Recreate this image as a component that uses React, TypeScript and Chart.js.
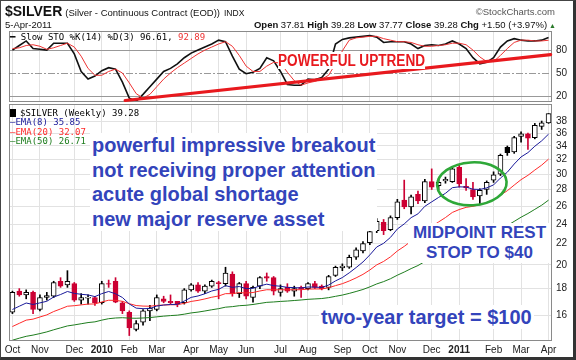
import React, { useEffect, useRef } from "react";
import { Chart, registerables } from "chart.js";

Chart.register(...registerables);

// ---------- data (weekly, Oct 2009 .. Apr 2011) ----------
const MONTH_TICK_WEEKS = [0, 4, 9, 13, 17, 21, 26, 30, 34, 39, 43, 48, 52, 56, 61, 65, 70, 74, 78];
const MONTH_TICK_LABELS = ["Oct", "Nov", "Dec", "2010", "Feb", "Mar", "Apr", "May", "Jun", "Jul", "Aug", "Sep", "Oct", "Nov", "Dec", "2011", "Feb", "Mar", "Apr"];

const OPEN = [16.2, 17.8, 17.5, 17.7, 16.4, 17.3, 17.4, 18.6, 18.3, 18.4,
  17.1, 17.25, 17.3, 16.9, 18.4, 18.6, 16.9, 16.2, 15.0, 15.5,
  16.3, 16.4, 17.2, 17.0, 17.0, 16.9, 17.9, 18.3, 17.8, 18.2,
  18.5, 18.4, 19.2, 17.6, 18.4, 17.3, 18.2, 19.0, 18.9, 17.7,
  18.1, 17.8, 18.1, 18.0, 18.4, 18.2, 18.1, 19.1, 19.75, 19.8,
  20.7, 21.3, 22.1, 23.3, 24.2, 23.4, 24.7, 26.7, 25.9, 27.4,
  26.6, 29.0, 28.5, 29.1, 29.0, 30.9, 28.4, 28.0, 27.2, 28.0,
  29.2, 30.0, 33.8, 33.1, 35.5, 35.9, 35.3, 37.1, 37.7];
const HIGH = [17.8, 18.0, 17.9, 17.8, 17.5, 17.7, 18.6, 18.9, 19.5, 18.5,
  17.6, 17.5, 17.4, 18.6, 18.7, 18.9, 17.0, 16.3, 15.6, 16.4,
  16.7, 17.5, 17.4, 17.5, 17.0, 18.0, 18.4, 18.5, 18.3, 18.7,
  18.6, 19.8, 19.4, 18.5, 18.6, 18.2, 19.0, 19.3, 19.0, 18.3,
  18.4, 18.2, 18.2, 18.5, 18.6, 18.3, 19.1, 19.9, 20.1, 20.9,
  21.6, 22.2, 23.4, 24.6, 24.5, 24.9, 26.8, 29.2, 27.3, 27.8,
  29.3, 30.7, 29.4, 29.6, 31.0, 31.2, 29.4, 28.9, 28.1, 29.1,
  30.3, 32.8, 34.0, 35.5, 36.2, 36.0, 37.6, 38.0, 39.28];
const LOW = [16.1, 17.4, 17.2, 16.1, 16.3, 17.1, 17.3, 18.1, 18.1, 17.0,
  16.8, 16.8, 16.7, 16.8, 18.1, 16.9, 16.1, 14.6, 14.9, 15.3,
  15.6, 16.3, 16.9, 16.8, 16.6, 16.8, 17.8, 17.7, 17.6, 18.1,
  17.2, 18.2, 17.4, 17.3, 17.2, 16.95, 18.0, 18.6, 17.5, 17.4,
  17.7, 17.4, 17.3, 17.9, 18.0, 17.9, 17.9, 19.0, 19.5, 19.7,
  20.5, 21.1, 21.9, 23.1, 22.9, 23.3, 24.5, 25.7, 25.1, 26.3,
  26.4, 28.0, 28.0, 28.8, 28.9, 28.3, 27.9, 26.8, 26.3, 27.4,
  28.9, 29.8, 32.6, 32.9, 34.6, 33.5, 35.1, 36.6, 37.6];
const CLOSE = [17.7, 17.5, 17.7, 16.4, 17.3, 17.45, 18.5, 18.2, 18.6, 17.1,
  17.3, 17.32, 16.9, 18.4, 18.35, 16.95, 16.3, 15.1, 15.4, 16.3,
  16.5, 17.3, 17.0, 16.9, 16.8, 17.9, 18.3, 17.8, 18.2, 18.6,
  18.4, 19.3, 17.6, 18.4, 17.4, 18.1, 18.9, 18.85, 17.8, 18.0,
  17.8, 18.0, 17.95, 18.4, 18.1, 18.0, 19.0, 19.8, 19.9, 20.7,
  21.4, 22.0, 23.2, 24.3, 23.3, 24.7, 26.5, 25.9, 27.1, 26.6,
  29.0, 28.3, 28.9, 29.3, 30.7, 28.7, 28.2, 27.1, 27.9, 28.9,
  29.9, 32.6, 33.0, 35.3, 35.9, 35.2, 37.3, 37.7, 39.28];

const EMA8 = [16.4, 16.64, 16.88, 16.77, 16.89, 17.01, 17.34, 17.53, 17.77, 17.62,
  17.55, 17.5, 17.37, 17.6, 17.77, 17.59, 17.3, 16.81, 16.5, 16.46,
  16.47, 16.65, 16.73, 16.77, 16.78, 17.03, 17.31, 17.42, 17.59, 17.81,
  17.94, 18.24, 18.1, 18.17, 18.0, 18.02, 18.22, 18.36, 18.24, 18.19,
  18.1, 18.08, 18.05, 18.13, 18.12, 18.09, 18.29, 18.63, 18.91, 19.31,
  19.77, 20.27, 20.92, 21.67, 22.03, 22.62, 23.48, 24.02, 24.7, 25.12,
  25.98, 26.5, 27.03, 27.53, 28.23, 28.34, 28.31, 28.04, 28.01, 28.21,
  28.58, 29.47, 30.25, 31.37, 32.38, 33.01, 33.96, 34.79, 35.85];
const EMA20 = [15.2, 15.42, 15.64, 15.71, 15.86, 16.01, 16.25, 16.44, 16.64, 16.68,
  16.74, 16.8, 16.81, 16.96, 17.09, 17.08, 17.01, 16.83, 16.69, 16.65,
  16.64, 16.7, 16.73, 16.75, 16.75, 16.86, 17.0, 17.08, 17.19, 17.32,
  17.42, 17.6, 17.6, 17.68, 17.65, 17.69, 17.81, 17.91, 17.9, 17.91,
  17.9, 17.91, 17.91, 17.96, 17.97, 17.97, 18.07, 18.24, 18.4, 18.62,
  18.88, 19.18, 19.56, 20.01, 20.32, 20.74, 21.29, 21.73, 22.24, 22.66,
  23.26, 23.74, 24.23, 24.71, 25.28, 25.61, 25.86, 25.98, 26.16, 26.42,
  26.75, 27.31, 27.85, 28.56, 29.26, 29.83, 30.54, 31.22, 32.07];
const EMA50 = [14.3, 14.43, 14.55, 14.63, 14.73, 14.84, 14.98, 15.11, 15.24, 15.31,
  15.39, 15.47, 15.52, 15.64, 15.74, 15.79, 15.81, 15.78, 15.77, 15.79,
  15.82, 15.87, 15.92, 15.96, 15.99, 16.06, 16.15, 16.21, 16.29, 16.38,
  16.46, 16.57, 16.61, 16.68, 16.71, 16.77, 16.85, 16.93, 16.96, 17.0,
  17.03, 17.07, 17.11, 17.16, 17.19, 17.22, 17.29, 17.39, 17.49, 17.62,
  17.77, 17.93, 18.14, 18.38, 18.57, 18.81, 19.11, 19.38, 19.68, 19.95,
  20.31, 20.62, 20.94, 21.27, 21.64, 21.92, 22.16, 22.36, 22.57, 22.82,
  23.1, 23.47, 23.85, 24.29, 24.75, 25.16, 25.63, 26.11, 26.71];

const STO_K = [80, 86, 92, 82, 81, 80, 89, 89, 89, 75,
  52, 42, 46, 53, 57, 55, 38, 17, 13, 22,
  32, 42, 52, 56, 62, 70, 76, 80, 84, 88,
  93, 91, 72, 55, 49, 51, 56, 70, 66, 52,
  35, 34, 34, 42, 41, 44, 55, 88, 94, 96,
  97, 98, 99, 97, 90, 91, 91, 91, 88, 82,
  86, 87, 86, 88, 92, 88, 82, 70, 62, 64,
  70, 84, 92, 95, 93, 92, 92, 93, 96.61];
const STO_D = [82, 83, 86, 87, 85, 81, 83, 86, 89, 84,
  72, 56, 47, 47, 52, 55, 50, 37, 23, 17,
  22, 32, 42, 50, 57, 63, 69, 75, 80, 84,
  88, 91, 85, 73, 59, 52, 52, 59, 64, 63,
  51, 40, 34, 37, 39, 42, 47, 62, 79, 93,
  96, 97, 98, 98, 95, 93, 91, 91, 90, 87,
  85, 85, 86, 87, 89, 89, 87, 80, 71, 65,
  65, 73, 82, 90, 93, 93, 92, 92, 92.89];

const PRICE_TICKS = [16, 18, 20, 22, 24, 26, 28, 30, 32, 34, 36, 38];
const STO_TICKS = [20, 50, 80];

// annotation anchors (in data units)
const TREND_WEEKS = [16.4, 78.3];
const TREND_VALUES = [14, 74];
const ELLIPSE_WEEKS = [61.8, 71.9];
const ELLIPSE_PRICES = [26.1, 31.6];

// ---------- styling ----------
const FONT = "'Liberation Sans', Arial, Helvetica, sans-serif";
const MONO = "'DejaVu Sans Mono', 'Liberation Mono', monospace";
const RED = "#cc0033";
const BLACK = "#000000";
const NOTE_BLUE = "#3344bb";
const GRID = "#e2e2e2";

const WEEK_LABELS = OPEN.map((_, i) => {
  const j = MONTH_TICK_WEEKS.indexOf(i);
  return j >= 0 ? MONTH_TICK_LABELS[j] : "";
});

const candleColor = (i: number) => (i > 0 && CLOSE[i] < CLOSE[i - 1] ? RED : BLACK);
const bodyFill = (i: number) => (CLOSE[i] < OPEN[i] ? candleColor(i) : "#ffffff");

const xScaleBase = (showTicks: boolean) => ({
  offset: true,
  grid: {
    offset: false,
    drawTicks: false,
    color: (ctx: any) => (ctx.tick && ctx.tick.label ? GRID : "rgba(0,0,0,0)"),
  },
  border: { display: false },
  ticks: {
    display: showTicks,
    autoSkip: false,
    maxRotation: 0,
    minRotation: 0,
    padding: 3,
    color: "#222",
    font: (ctx: any) => {
      const lab = ctx.tick ? String(ctx.tick.label) : "";
      return { family: FONT, size: 10, weight: /^\d{4}$/.test(lab) ? "bold" : "normal" };
    },
  },
  afterFit: (s: any) => {
    s.height = showTicks ? 19 : 0;
  },
});

const panelBorder = (chart: any) => {
  const { ctx, chartArea: a } = chart;
  ctx.save();
  ctx.strokeStyle = "#8a8a8a";
  ctx.lineWidth = 1;
  ctx.strokeRect(a.left + 0.5, a.top + 0.5, a.right - a.left - 1, a.bottom - a.top - 1);
  ctx.restore();
};

const stochPlugin = {
  id: "stochDecor",
  beforeDatasetsDraw(chart: any) {
    const { ctx, chartArea: a, scales } = chart;
    ctx.save();
    STO_TICKS.forEach((v) => {
      const y = Math.round(scales.y.getPixelForValue(v)) + 0.5;
      ctx.beginPath();
      ctx.strokeStyle = "#999";
      ctx.lineWidth = 1;
      ctx.setLineDash(v === 50 ? [7, 2, 2, 2] : []);
      ctx.moveTo(a.left, y);
      ctx.lineTo(a.right, y);
      ctx.stroke();
    });
    ctx.restore();
  },
  afterDatasetsDraw(chart: any) {
    const { ctx, scales } = chart;
    panelBorder(chart);
    ctx.save();
    ctx.strokeStyle = "#e8191e";
    ctx.lineWidth = 3.2;
    ctx.lineCap = "round";
    ctx.beginPath();
    ctx.moveTo(scales.x.getPixelForValue(TREND_WEEKS[0]), scales.y.getPixelForValue(TREND_VALUES[0]));
    ctx.lineTo(scales.x.getPixelForValue(TREND_WEEKS[1]), scales.y.getPixelForValue(TREND_VALUES[1]));
    ctx.stroke();
    ctx.restore();
  },
};

const pricePlugin = {
  id: "priceDecor",
  afterDatasetsDraw(chart: any) {
    const { ctx, scales } = chart;
    panelBorder(chart);
    const x0 = scales.x.getPixelForValue(ELLIPSE_WEEKS[0]);
    const x1 = scales.x.getPixelForValue(ELLIPSE_WEEKS[1]);
    const y0 = scales.y.getPixelForValue(ELLIPSE_PRICES[1]);
    const y1 = scales.y.getPixelForValue(ELLIPSE_PRICES[0]);
    ctx.save();
    ctx.strokeStyle = "#2ea838";
    ctx.lineWidth = 2.6;
    ctx.beginPath();
    ctx.ellipse((x0 + x1) / 2, (y0 + y1) / 2, (x1 - x0) / 2, (y1 - y0) / 2, -0.06, 0, Math.PI * 2);
    ctx.stroke();
    ctx.restore();
  },
};

const abs = (left: number, top: number, extra: any = {}) => ({
  position: "absolute" as const,
  left,
  top,
  whiteSpace: "nowrap" as const,
  ...extra,
});

export default function App() {
  const stochRef = useRef<HTMLCanvasElement | null>(null);
  const priceRef = useRef<HTMLCanvasElement | null>(null);

  useEffect(() => {
    const colors = OPEN.map((_, i) => candleColor(i));
    const fills = OPEN.map((_, i) => bodyFill(i));
    const bodies = OPEN.map((o, i) => [Math.min(o, CLOSE[i]), Math.max(o, CLOSE[i])]);
    const wicks = LOW.map((l, i) => [l, HIGH[i]]);

    const stoch = new Chart(stochRef.current as HTMLCanvasElement, {
      type: "line",
      data: {
        labels: WEEK_LABELS,
        datasets: [
          { label: "%D", data: STO_D, borderColor: "#ee3333", borderWidth: 1, pointRadius: 0, tension: 0 },
          { label: "%K", data: STO_K, borderColor: "#111", borderWidth: 1.6, pointRadius: 0, tension: 0 },
        ],
      },
      options: {
        responsive: false,
        animation: false,
        events: [],
        layout: { padding: { left: 9, top: 31, right: 0, bottom: 258 } },
        plugins: { legend: { display: false }, tooltip: { enabled: false } },
        scales: {
          x: xScaleBase(false) as any,
          y: {
            position: "right",
            min: 12,
            max: 105,
            afterBuildTicks: (ax: any) => {
              ax.ticks = STO_TICKS.map((v) => ({ value: v }));
            },
            grid: { display: false, drawTicks: false },
            border: { display: false },
            ticks: { padding: 4, color: "#222", font: { family: FONT, size: 10 }, callback: (v: any) => String(v) },
            afterFit: (s: any) => {
              s.width = 24;
            },
          },
        },
      },
      plugins: [stochPlugin],
    });

    const price = new Chart(priceRef.current as HTMLCanvasElement, {
      type: "bar",
      data: {
        labels: WEEK_LABELS,
        datasets: [
          { type: "line", label: "EMA(8)", data: EMA8, borderColor: "#1a1a9a", borderWidth: 1, pointRadius: 0, tension: 0, order: 0 } as any,
          { type: "line", label: "EMA(20)", data: EMA20, borderColor: "#ff2a2a", borderWidth: 1, pointRadius: 0, tension: 0, order: 0 } as any,
          { type: "line", label: "EMA(50)", data: EMA50, borderColor: "#1e7d1e", borderWidth: 1, pointRadius: 0, tension: 0, order: 0 } as any,
          {
            type: "bar", label: "body", data: bodies, backgroundColor: fills, borderColor: colors,
            borderWidth: 1, borderSkipped: false, barThickness: 5, grouped: false, order: 2,
          } as any,
          {
            type: "bar", label: "wick", data: wicks, backgroundColor: colors, borderWidth: 0,
            barThickness: 1, grouped: false, order: 3,
          } as any,
        ],
      },
      options: {
        responsive: false,
        animation: false,
        events: [],
        layout: { padding: { left: 9, top: 104, right: 0, bottom: 0 } },
        plugins: { legend: { display: false }, tooltip: { enabled: false } },
        scales: {
          x: xScaleBase(true) as any,
          y: {
            type: "logarithmic",
            position: "right",
            min: 14.25,
            max: 41,
            afterBuildTicks: (ax: any) => {
              ax.ticks = PRICE_TICKS.map((v) => ({ value: v }));
            },
            grid: { color: GRID, drawTicks: false },
            border: { display: false },
            ticks: { padding: 4, color: "#222", font: { family: FONT, size: 10 }, callback: (v: any) => String(v) },
            afterFit: (s: any) => {
              s.width = 24;
            },
          },
        },
      },
      plugins: [pricePlugin],
    });

    return () => {
      stoch.destroy();
      price.destroy();
    };
  }, []);

  const small = { fontFamily: FONT, fontSize: 9.5, color: "#111", lineHeight: "12px" };
  const mono = { fontFamily: MONO, fontSize: 9, lineHeight: "9.4px" };
  const note = { fontFamily: FONT, fontWeight: "bold" as const, color: NOTE_BLUE, background: "#fff" };

  return (
    <div style={{ position: "absolute", left: 0, top: 0, width: 576, height: 360, background: "#fff", overflow: "hidden" }}>
      <canvas ref={priceRef} width={576} height={360} style={{ position: "absolute", left: 0, top: 0 }} />
      <canvas ref={stochRef} width={576} height={360} style={{ position: "absolute", left: 0, top: 0 }} />

      {/* header */}
      <div style={abs(5, 5, { ...small, display: "flex", alignItems: "baseline" })}>
        <span style={{ fontWeight: "bold", fontSize: 14 }}>$SILVER</span>
        <span style={{ marginLeft: 3 }}>(Silver - Continuous Contract (EOD))</span>
        <span style={{ marginLeft: 4, fontSize: 8.5 }}>INDX</span>
      </div>
      <div style={abs(0, 6, { ...small, left: "auto", right: 21, color: "#555" })}>©StockCharts.com</div>
      <div style={abs(5, 19, small)}>5-Apr-2011</div>
      <div style={abs(0, 19, { ...small, left: "auto", right: 20 })}>
        <b>Open</b> 37.81 <b>High</b> 39.28 <b>Low</b> 37.77 <b>Close</b> 39.28 <b>Chg</b> +1.50 (+3.97%)
        <span style={{ fontSize: 7, color: "#2a7a2a", marginLeft: 2 }}>▲</span>
      </div>

      {/* stochastic legend */}
      <div style={abs(10, 32, { ...mono, lineHeight: "10px" })}>
        <span style={{ fontWeight: "bold" }}>━</span> Slow STO %K(14) %D(3) 96.61, <span style={{ color: "#ee3333" }}>92.89</span>
      </div>
      <div
        style={abs(278, 52, {
          fontFamily: FONT, fontWeight: "bold", fontSize: 16, color: "#e8191e", background: "#fff",
          lineHeight: "17px", transform: "scaleX(0.85)", transformOrigin: "0 0",
        })}
      >
        POWERFUL UPTREND
      </div>

      {/* price legend */}
      <div style={abs(10, 109, mono)}>
        <div>
          <span style={{ display: "inline-block", width: 4, height: 6, border: "1px solid #000", background: "#000", marginRight: 4, verticalAlign: "-1px" }} />
          $SILVER (Weekly) 39.28
        </div>
        <div style={{ color: "#1a1a9a" }}>—EMA(8) 35.85</div>
        <div style={{ color: "#ff2a2a" }}>—EMA(20) 32.07</div>
        <div style={{ color: "#1e7d1e" }}>—EMA(50) 26.71</div>
      </div>

      {/* annotations */}
      <div style={abs(90, 133, { ...note, fontSize: 20, lineHeight: "24.5px", padding: "0 2px" })}>
        <div>powerful impressive breakout</div>
        <div>not receiving proper attention</div>
        <div>acute global shortage</div>
        <div>new major reserve asset</div>
      </div>
      <div style={abs(408, 223, { ...note, fontSize: 17, lineHeight: "20px", width: 143, textAlign: "center" })}>
        <div>MIDPOINT REST</div>
        <div>STOP TO $40</div>
      </div>
      <div style={abs(319, 305, { ...note, fontSize: 20, lineHeight: "24px", padding: "0 2px" })}>
        two-year target = $100
      </div>

      {/* frame */}
      <div
        style={{
          position: "absolute", left: 0, top: 0, width: 576, height: 360, boxSizing: "border-box",
          borderLeft: "1px solid #444", borderTop: "1px solid #444", borderRight: "3px solid #333", borderBottom: "3px solid #333",
          pointerEvents: "none",
        }}
      />
    </div>
  );
}
